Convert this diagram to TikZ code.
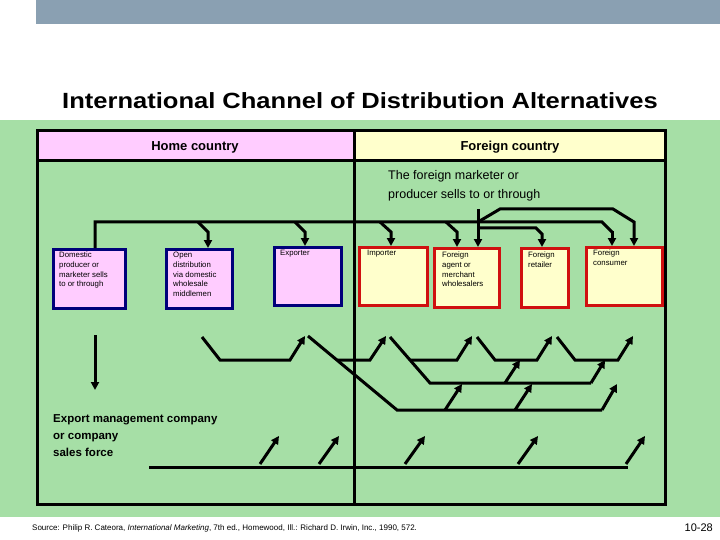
\documentclass[tikz,border=0pt]{standalone}
\usepackage{fontspec}
\setmainfont{Liberation Sans}
\usetikzlibrary{arrows.meta}
\definecolor{bg}{HTML}{A6DFA6}
\definecolor{pinkf}{HTML}{FFCCFF}
\definecolor{yelf}{HTML}{FFFFCC}
\definecolor{navy}{HTML}{00007A}
\definecolor{redb}{HTML}{D01010}
\definecolor{barg}{HTML}{8AA0B2}
\begin{document}
\begin{tikzpicture}[x=1pt,y=-1pt,
  ln/.style={line width=3pt,line join=miter},
  ar/.style={ln,-{Triangle[length=8pt,width=8pt]}},
  homebox/.style={draw=navy,line width=3.2pt,fill=pinkf,anchor=north west,inner sep=0pt},
  forbox/.style={draw=redb,line width=3.2pt,fill=yelf,anchor=north west,inner sep=0pt},
  boxtxt/.style={anchor=north west,font=\fontsize{7.8}{9.7}\selectfont,align=left,inner sep=0pt}]
\useasboundingbox (0,0) rectangle (720,540);
\fill[white] (0,0) rectangle (720,540);
\fill[barg] (36,0) rectangle (720,24);
\fill[bg] (0,120) rectangle (720,517);
\node[font=\bfseries\fontsize{22}{26}\selectfont] (title) at (360,101) {\scalebox{1.16}[1]{International Channel of Distribution Alternatives}};
% frame
\fill[pinkf] (37,131) rectangle (354,161);
\fill[yelf] (354,131) rectangle (665,161);
\draw[line width=3pt] (37,131) rectangle (665,504);
\draw[line width=3pt] (37,161) -- (665,161);
\draw[line width=3pt] (354,131) -- (354,504);
\node[font=\bfseries\fontsize{13}{15}\selectfont] (home) at (195,147) {Home country};
\node[font=\bfseries\fontsize{13}{15}\selectfont] (foreign) at (510,147) {Foreign country};
\node[anchor=north west,align=left,font=\fontsize{12.5}{19}\selectfont,inner sep=0pt] (fmtext) at (388,170) {The foreign marketer or\\producer sells to or through};
% boxes
\node[homebox,minimum width=72pt,minimum height=59pt] (dom) at (52,248) {};
\node[boxtxt] (domt) at (59,252) {Domestic\\producer or\\marketer sells\\to or through};
\node[homebox,minimum width=66pt,minimum height=59pt] (open) at (165,248) {};
\node[boxtxt] (opent) at (173,252) {Open\\distribution\\via domestic\\wholesale\\middlemen};
\node[homebox,minimum width=67pt,minimum height=58pt] (exp) at (273,246) {};
\node[boxtxt] (expt) at (280,250) {Exporter};
\node[forbox,minimum width=68pt,minimum height=58pt] (imp) at (358,246) {};
\node[boxtxt] (impt) at (367,250) {Importer};
\node[forbox,minimum width=65pt,minimum height=59pt] (agt) at (433,247) {};
\node[boxtxt] (agtt) at (442,252) {Foreign\\agent or\\merchant\\wholesalers};
\node[forbox,minimum width=47pt,minimum height=59pt] (ret) at (520,247) {};
\node[boxtxt] (rett) at (528,252) {Foreign\\retailer};
\node[forbox,minimum width=76pt,minimum height=58pt] (con) at (585,246) {};
\node[boxtxt] (cont) at (593,250) {Foreign\\consumer};
\node[anchor=north west,align=left,font=\bfseries\fontsize{11.5}{17}\selectfont,inner sep=0pt] (emc) at (53,414) {Export management company\\or company\\sales force};
% top connectors
\coordinate (t0) at (95,222);
\draw[ln] (dom.north -| t0) -- (t0) -- (602,222) -- (612,232);
\draw[ar] (612,231) -- (con.north -| 612,0);
\draw[ar] (198,222) -- (208,232) -- (open.north -| 208,0);
\draw[ar] (295,222) -- (305,232) -- (exp.north -| 305,0);
\draw[ar] (380,222) -- (391,232) -- (imp.north -| 391,0);
\draw[ar] (446,222) -- (457,232) -- (agt.north -| 457,0);
\draw[ar] (478,222) -- (500,209) -- (613,209) -- (634,222) -- (con.north -| 634,0);
\draw[ar] (478,209) -- (agt.north -| 478,0);
\draw[ar] (478,228) -- (536,228) -- (542,234) -- (ret.north -| 542,0);
% lower connectors
\draw[ar] (95,335) -- (95,390);
\draw[ar] (202,337) -- (220,360) -- (290,360) -- (305,336);
\draw[ln] (308,336) -- (397,410) -- (602,410);
\draw[ar] (602,410) -- (617,384);
\draw[ar] (337,360) -- (370,360) -- (386,336);
\draw[ar] (445,410) -- (462,384);
\draw[ar] (515,410) -- (532,384);
\draw[ln] (390,337) -- (430,383) -- (591,383);
\draw[ar] (591,383) -- (605,360);
\draw[ar] (410,360) -- (457,360) -- (472,336);
\draw[ar] (477,337) -- (495,360) -- (537,360) -- (552,336);
\draw[ar] (505,383) -- (520,360);
\draw[ar] (557,337) -- (575,360) -- (618,360) -- (633,336);
\draw[ln] (149,467) -- (628,467);
\draw[ar] (260,464) -- (279,436);
\draw[ar] (319,464) -- (339,436);
\draw[ar] (405,464) -- (425,436);
\draw[ar] (518,464) -- (538,436);
\draw[ar] (626,464) -- (645,436);
% footer
\node[anchor=west,font=\fontsize{8}{10}\selectfont,inner sep=0pt] (src) at (32,528) {Source: Philip R. Cateora, \textit{International Marketing}, 7th ed., Homewood, Ill.: Richard D. Irwin, Inc., 1990, 572.};
\node[anchor=east,font=\fontsize{11}{13}\selectfont,inner sep=0pt] (pg) at (713,528) {10-28};
\end{tikzpicture}
\end{document}
